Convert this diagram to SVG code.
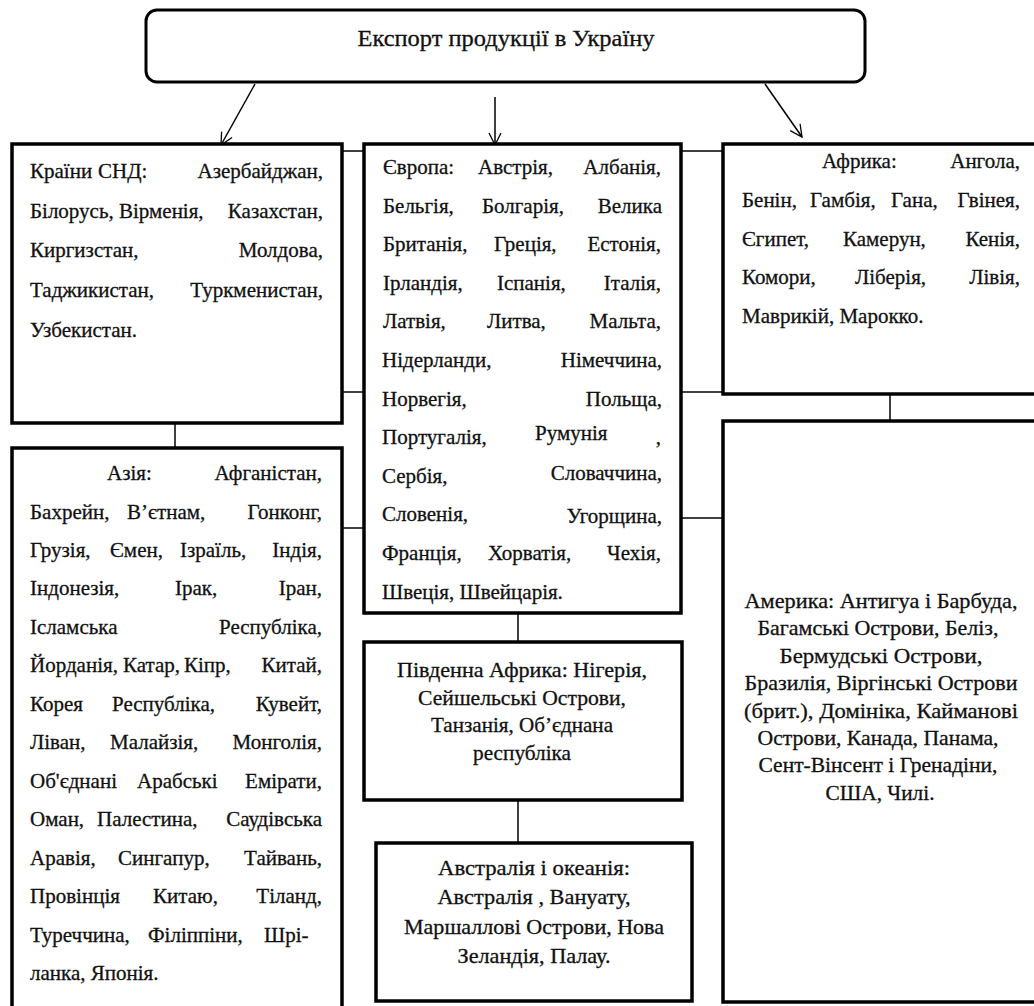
<svg xmlns="http://www.w3.org/2000/svg" width="1034" height="1006" viewBox="0 0 1034 1006">
<defs>
<style>
.box{fill:#fff;stroke:#000;stroke-width:3.5}
.top{fill:#fff;stroke:#000;stroke-width:3}
.con{stroke:#000;stroke-width:1.5;fill:none}
text{font-family:'Liberation Serif','Times New Roman',serif;font-size:21px;fill:#111;stroke:#111;stroke-width:0.3}
.r{text-anchor:end}
.c{text-anchor:middle}
.title{font-size:22.4px}
</style>
<marker id="ah" viewBox="0 0 14 14" refX="13" refY="7" markerWidth="14" markerHeight="14" markerUnits="userSpaceOnUse" orient="auto">
<path d="M1,1 L13,7 L1,13" fill="none" stroke="#000" stroke-width="1.3"/>
</marker>
</defs>
<rect width="1034" height="1006" fill="#fff"/>

<g id="connectors">
<line class="con" x1="255" y1="84" x2="221" y2="145" marker-end="url(#ah)"/>
<line class="con" x1="495" y1="97" x2="495" y2="145" marker-end="url(#ah)"/>
<line class="con" x1="765" y1="84" x2="802" y2="137" marker-end="url(#ah)"/>
<line class="con" x1="342" y1="151" x2="364" y2="151"/>
<line class="con" x1="681" y1="151" x2="723" y2="151"/>
<line class="con" x1="342" y1="392" x2="364" y2="392"/>
<line class="con" x1="681" y1="392" x2="723" y2="392"/>
<line class="con" x1="342" y1="528" x2="364" y2="528"/>
<line class="con" x1="681" y1="518" x2="723" y2="518"/>
<line class="con" x1="175" y1="423" x2="175" y2="448"/>
<line class="con" x1="890" y1="394" x2="890" y2="421"/>
<line class="con" x1="518" y1="613" x2="518" y2="642"/>
<line class="con" x1="518" y1="800" x2="518" y2="843"/>
</g>

<g id="root">
<rect class="top" x="146" y="10" width="719" height="72" rx="11"/>
<text class="c title" x="506" y="46" textLength="297" lengthAdjust="spacingAndGlyphs">Експорт продукції в Україну</text>
</g>

<g id="cis">
<rect class="box" x="12" y="144" width="330" height="279"/>
<text y="178"><tspan x="30">Країни</tspan><tspan x="98">СНД:</tspan></text><text class="r" x="323" y="178">Азербайджан,</text>
<text y="218"><tspan x="30">Білорусь,</tspan><tspan x="119">Вірменія,</tspan></text><text class="r" x="323" y="218">Казахстан,</text>
<text x="30" y="257">Киргизстан,</text><text class="r" x="323" y="257">Молдова,</text>
<text x="30" y="297">Таджикистан,</text><text class="r" x="323" y="297">Туркменистан,</text>
<text x="30" y="337">Узбекистан.</text>
</g>

<g id="europe">
<rect class="box" x="364" y="144" width="317" height="469"/>
<text y="174"><tspan x="383">Європа:</tspan><tspan x="478">Австрія,</tspan></text><text class="r" x="661" y="174">Албанія,</text>
<text y="212.6"><tspan x="383">Бельгія,</tspan><tspan x="482">Болгарія,</tspan></text><text class="r" x="662" y="212.6">Велика</text>
<text y="251.2"><tspan x="383">Британія,</tspan><tspan x="494">Греція,</tspan></text><text class="r" x="661" y="251.2">Естонія,</text>
<text y="289.8"><tspan x="383">Ірландія,</tspan><tspan x="497">Іспанія,</tspan></text><text class="r" x="661" y="289.8">Італія,</text>
<text y="328.4"><tspan x="383">Латвія,</tspan><tspan x="487">Литва,</tspan></text><text class="r" x="661" y="328.4">Мальта,</text>
<text x="382" y="367">Нідерланди,</text><text class="r" x="662" y="367">Німеччина,</text>
<text x="382" y="405.6">Норвегія,</text><text class="r" x="662" y="405.6">Польща,</text>
<text x="382" y="444.2">Португалія,</text><text x="535" y="439.5">Румунія</text><text class="r" x="661" y="444.2">,</text>
<text x="382" y="482.8">Сербія,</text><text class="r" x="662" y="480">Словаччина,</text>
<text x="382" y="521.4">Словенія,</text><text class="r" x="662" y="523">Угорщина,</text>
<text y="560"><tspan x="382">Франція,</tspan><tspan x="488">Хорватія,</tspan></text><text class="r" x="661" y="560">Чехія,</text>
<text x="382" y="598.6">Швеція, Швейцарія.</text>
</g>

<g id="africa">
<rect class="box" x="723" y="144" width="330" height="250"/>
<text x="822" y="168">Африка:</text><text class="r" x="1020" y="168">Ангола,</text>
<text y="207"><tspan x="742">Бенін,</tspan><tspan x="810">Гамбія,</tspan><tspan x="891">Гана,</tspan></text><text class="r" x="1020" y="207">Гвінея,</text>
<text y="246"><tspan x="742">Єгипет,</tspan><tspan x="843">Камерун,</tspan></text><text class="r" x="1020" y="246">Кенія,</text>
<text y="284"><tspan x="742">Комори,</tspan><tspan x="855">Ліберія,</tspan></text><text class="r" x="1020" y="284">Лівія,</text>
<text x="742" y="323">Маврикій, Марокко.</text>
</g>

<g id="asia">
<rect class="box" x="12" y="448" width="330" height="575"/>
<text x="107" y="480">Азія:</text><text class="r" x="322" y="480">Афганістан,</text>
<text y="518.5"><tspan x="30">Бахрейн,</tspan><tspan x="127">В’єтнам,</tspan></text><text class="r" x="322" y="518.5">Гонконг,</text>
<text y="557"><tspan x="30">Грузія,</tspan><tspan x="110">Ємен,</tspan><tspan x="180">Ізраїль,</tspan></text><text class="r" x="322" y="557">Індія,</text>
<text y="595.4"><tspan x="30">Індонезія,</tspan><tspan x="175">Ірак,</tspan></text><text class="r" x="322" y="595.4">Іран,</text>
<text x="30" y="633.8">Ісламська</text><text class="r" x="322" y="633.8">Республіка,</text>
<text y="672.3"><tspan x="30">Йорданія,</tspan><tspan x="123">Катар,</tspan><tspan x="184">Кіпр,</tspan></text><text class="r" x="322" y="672.3">Китай,</text>
<text y="710.8"><tspan x="30">Корея</tspan><tspan x="112">Республіка,</tspan></text><text class="r" x="322" y="710.8">Кувейт,</text>
<text y="749.2"><tspan x="30">Ліван,</tspan><tspan x="110">Малайзія,</tspan></text><text class="r" x="322" y="749.2">Монголія,</text>
<text y="787.7"><tspan x="30">Об'єднані</tspan><tspan x="137">Арабські</tspan></text><text class="r" x="322" y="787.7">Емірати,</text>
<text y="826.1"><tspan x="30">Оман,</tspan><tspan x="97">Палестина,</tspan></text><text class="r" x="322" y="826.1">Саудівська</text>
<text y="864.6"><tspan x="30">Аравія,</tspan><tspan x="118">Сингапур,</tspan></text><text class="r" x="322" y="864.6">Тайвань,</text>
<text y="903"><tspan x="30">Провінція</tspan><tspan x="153">Китаю,</tspan></text><text class="r" x="322" y="903">Тіланд,</text>
<text y="941.5"><tspan x="30">Туреччина,</tspan><tspan x="148">Філіппіни,</tspan><tspan x="264">Шрі-</tspan></text>
<text x="30" y="980">ланка, Японія.</text>
</g>

<g id="south-africa">
<rect class="box" x="364" y="642" width="318" height="158"/>
<text class="c" x="522" y="677" textLength="250" lengthAdjust="spacingAndGlyphs">Південна Африка: Нігерія,</text>
<text class="c" x="522" y="705" textLength="208" lengthAdjust="spacingAndGlyphs">Сейшельські Острови,</text>
<text class="c" x="522" y="732" textLength="182" lengthAdjust="spacingAndGlyphs">Танзанія, Об’єднана</text>
<text class="c" x="522" y="760" textLength="98" lengthAdjust="spacingAndGlyphs">республіка</text>
</g>

<g id="australia">
<rect class="box" x="376" y="843" width="316" height="158"/>
<text class="c" x="534" y="875" textLength="192" lengthAdjust="spacingAndGlyphs">Австралія і океанія:</text>
<text class="c" x="534" y="904" textLength="193" lengthAdjust="spacingAndGlyphs">Австралія , Вануату,</text>
<text class="c" x="534" y="934" textLength="260" lengthAdjust="spacingAndGlyphs">Маршаллові Острови, Нова</text>
<text class="c" x="534" y="963" textLength="153" lengthAdjust="spacingAndGlyphs">Зеландія, Палау.</text>
</g>

<g id="america">
<rect class="box" x="723" y="421" width="330" height="581"/>
<text class="c" x="881" y="608" textLength="273" lengthAdjust="spacingAndGlyphs">Америка: Антигуа і Барбуда,</text>
<text class="c" x="878" y="635.4" textLength="241" lengthAdjust="spacingAndGlyphs">Багамські Острови, Беліз,</text>
<text class="c" x="881" y="662.8" textLength="203" lengthAdjust="spacingAndGlyphs">Бермудські Острови,</text>
<text class="c" x="881" y="690.2" textLength="273" lengthAdjust="spacingAndGlyphs">Бразилія, Віргінські Острови</text>
<text class="c" x="881" y="717.6" textLength="274" lengthAdjust="spacingAndGlyphs">(брит.), Домініка, Кайманові</text>
<text class="c" x="878" y="745" textLength="241" lengthAdjust="spacingAndGlyphs">Острови, Канада, Панама,</text>
<text class="c" x="878" y="772.4" textLength="239" lengthAdjust="spacingAndGlyphs">Сент-Вінсент  і Гренадіни,</text>
<text class="c" x="880" y="799.8" textLength="109" lengthAdjust="spacingAndGlyphs">США, Чилі.</text>
</g>
</svg>
